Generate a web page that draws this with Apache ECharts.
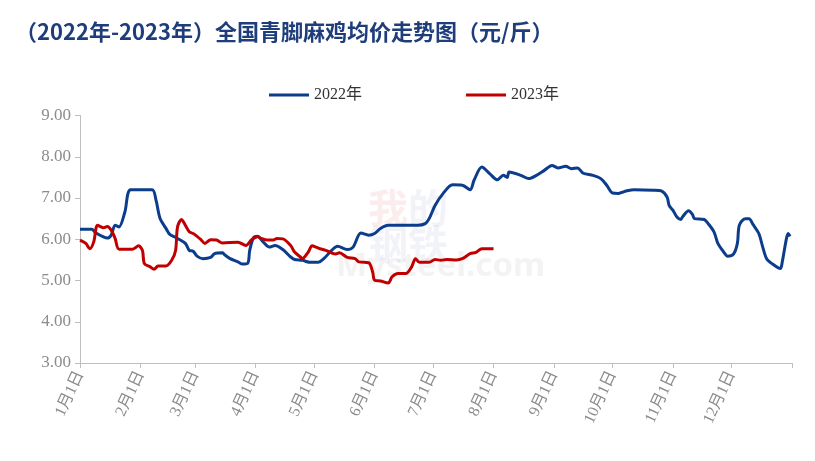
<!DOCTYPE html>
<html>
<head>
<meta charset="utf-8">
<script src="https://cdn.jsdelivr.net/npm/echarts@6/dist/echarts.min.js"></script>
<style>html,body{margin:0;padding:0;background:#fff;}#c{width:815px;height:461px;}</style>
</head>
<body>
<div id="c"></div>
<script>
var monthDays = [31,28,31,30,31,30,31,31,30,31,30,31];
var yTicks = [3,4,5,6,7,8,9];
var seriesNames = ['2022年','2023年'];

var days2022 = [0,6,8,12,14,16,18,20,23,26,37,39,41,44,46,50,54,56,58,60,63,67,69,73,74,77,81,83,86,87,89,91,94,97,100,104,108,110,114,118,122,125,129,132,137,140,144,148,151,154,158,173,177,179,182,186,191,196,200,202,206,210,214,217,219,220,226,230,234,238,242,245,249,252,255,258,263,267,270,273,276,278,280,284,294,298,301,302,304,306,308,309,312,314,315,320,322,325,327,330,332,335,337,338,341,343,345,348,350,352,355,359,360,362,363,364];
var vals2022 = [6.24,6.24,6.16,6.06,6.03,6.10,6.34,6.30,6.66,7.20,7.20,6.94,6.51,6.27,6.12,6.02,5.90,5.73,5.71,5.59,5.53,5.56,5.65,5.67,5.63,5.53,5.45,5.40,5.42,5.73,6.04,6.07,5.93,5.81,5.85,5.75,5.57,5.51,5.49,5.44,5.44,5.53,5.73,5.83,5.75,5.81,6.15,6.10,6.14,6.26,6.34,6.34,6.38,6.50,6.82,7.10,7.32,7.31,7.20,7.43,7.75,7.59,7.44,7.55,7.50,7.63,7.55,7.47,7.55,7.67,7.79,7.73,7.77,7.71,7.73,7.60,7.55,7.47,7.31,7.12,7.11,7.14,7.17,7.20,7.19,7.17,7.02,6.82,6.70,6.54,6.48,6.55,6.69,6.60,6.50,6.48,6.38,6.18,5.90,5.69,5.59,5.64,5.90,6.34,6.50,6.50,6.36,6.14,5.81,5.53,5.40,5.29,5.45,5.98,6.14,6.07];

var days2023 = [0,3,5,7,9,12,14,16,18,20,27,30,32,33,36,38,40,44,47,49,50,52,54,56,58,60,62,64,67,70,73,81,85,88,91,93,96,99,101,104,108,110,113,114,117,119,121,123,126,131,133,137,141,143,148,150,151,154,158,160,163,167,170,172,174,179,182,185,188,193,196,200,203,206,212];
var vals2023 = [5.98,5.90,5.77,5.93,6.34,6.28,6.31,6.22,6.02,5.76,5.76,5.84,5.73,5.41,5.33,5.27,5.35,5.35,5.49,5.73,6.30,6.48,6.34,6.18,6.14,6.07,5.99,5.90,5.99,5.98,5.91,5.93,5.85,5.99,6.06,6.02,5.98,5.98,6.02,6.01,5.85,5.69,5.57,5.53,5.69,5.84,5.81,5.77,5.73,5.64,5.67,5.56,5.53,5.45,5.43,5.21,5.01,4.99,4.94,5.09,5.17,5.17,5.33,5.53,5.44,5.44,5.51,5.49,5.51,5.50,5.53,5.65,5.68,5.77,5.77];

// category labels: every day of the year plus the following Jan 1
var categories = [];
var firstOfMonth = {};
for (var m = 0; m < 12; m++) {
  for (var d = 1; d <= monthDays[m]; d++) {
    if (d === 1) firstOfMonth[categories.length] = true;
    categories.push((m + 1) + '月' + d + '日');
  }
}
var lastIdx = categories.length;
categories.push('1月1日');
firstOfMonth[lastIdx] = true;

function pairs(ds, vs) { return ds.map(function (d, i) { return [d, vs[i]]; }); }

var chart = echarts.init(document.getElementById('c'));
chart.setOption({
  animation: false,
  backgroundColor: '#ffffff',
  title: {
    text: '（2022年-2023年）全国青脚麻鸡均价走势图（元/斤）',
    left: 10, top: 16,
    textStyle: { fontFamily: 'Noto Sans CJK SC', fontWeight: 'bold', fontSize: 22, color: '#1f3d7a' }
  },
  legend: {
    top: 82, left: 264,
    icon: 'rect',
    itemWidth: 40, itemHeight: 3, itemGap: 104,
    textStyle: { fontFamily: 'Liberation Serif, Noto Sans CJK SC', fontSize: 16, color: '#333' },
    data: seriesNames
  },
  grid: { left: 80, right: 23, top: 115.5, bottom: 98, containLabel: false },
  xAxis: {
    type: 'category',
    data: categories,
    boundaryGap: false,
    axisLine: { lineStyle: { color: '#bfbfbf', width: 1 } },
    axisTick: { show: true, length: 5, interval: function (i) { return !!firstOfMonth[i]; }, lineStyle: { color: '#bfbfbf' } },
    axisLabel: {
      interval: function (i) { return !!firstOfMonth[i] && i !== lastIdx; },
      rotate: 65, margin: 9,
      fontFamily: 'Liberation Serif, Noto Sans CJK SC', fontSize: 16, color: '#8c8c8c'
    },
    splitLine: { show: false }
  },
  yAxis: {
    type: 'value', min: yTicks[0], max: yTicks[yTicks.length - 1], interval: 1,
    axisLine: { show: true, lineStyle: { color: '#bfbfbf' } },
    axisTick: { show: true, length: 5, lineStyle: { color: '#bfbfbf' } },
    axisLabel: { formatter: function (v) { return v.toFixed(2); }, fontFamily: 'Liberation Serif', fontSize: 17, color: '#8c8c8c', margin: 9 },
    splitLine: { show: false }
  },
  graphic: [
    { type: 'text', left: 336, top: 250, silent: true, z: 0,
      style: { text: 'Mysteel.com', font: 'bold 33px Noto Sans', fill: 'rgba(200,200,200,0.22)' } },
    { type: 'text', left: 368, top: 188, silent: true, z: 0,
      style: {
        text: '{a|我}{b|的}\n{b|钢铁}',
        rich: {
          a: { font: 'bold 40px Noto Sans CJK SC', fill: 'rgba(220,110,110,0.12)', lineHeight: 36 },
          b: { font: 'bold 40px Noto Sans CJK SC', fill: 'rgba(120,140,190,0.10)', lineHeight: 36 }
        }
      } }
  ],
  series: [
    { name: seriesNames[0], type: 'line', data: pairs(days2022, vals2022), symbol: 'none', smooth: 0.3,
      lineStyle: { color: '#0b3d8c', width: 3 }, itemStyle: { color: '#0b3d8c' }, z: 3 },
    { name: seriesNames[1], type: 'line', data: pairs(days2023, vals2023), symbol: 'none', smooth: 0.3,
      lineStyle: { color: '#c00000', width: 3 }, itemStyle: { color: '#c00000' }, z: 4 }
  ]
});
</script>
</body>
</html>
